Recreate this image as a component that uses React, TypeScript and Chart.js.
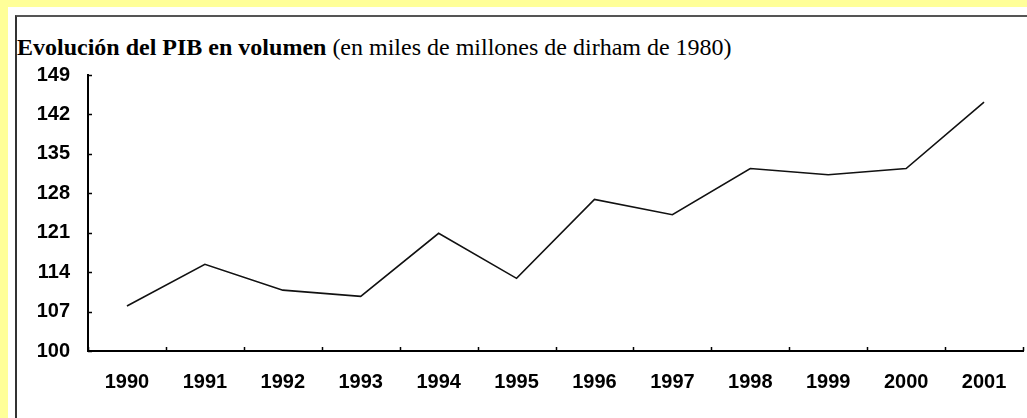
import React, { useEffect, useRef } from "react";
import { Chart, registerables } from "chart.js";

Chart.register(...registerables);

const years: string[] = ["1990", "1991", "1992", "1993", "1994", "1995", "1996", "1997", "1998", "1999", "2000", "2001"];
const pibValues: number[] = [108.0, 115.4, 110.8, 109.7, 120.9, 112.9, 126.9, 124.2, 132.4, 131.3, 132.4, 144.2];
const yMin = 100;
const yMax = 149;
const yStep = 7;

const innerTicks = {
  id: "innerTicks",
  afterDraw(chart: any) {
    const ctx = chart.ctx;
    const x = chart.scales.x;
    const y = chart.scales.y;
    const len = 4;
    ctx.save();
    ctx.strokeStyle = "#000";
    ctx.lineWidth = 1.5;
    ctx.beginPath();
    const n = x.getLabels().length;
    for (let i = 0; i <= n; i++) {
      const px = Math.round(x.getPixelForValue(i - 0.5)) + 0.5;
      ctx.moveTo(px, y.bottom);
      ctx.lineTo(px, y.bottom - len);
    }
    y.ticks.forEach((t: any) => {
      const py = Math.round(y.getPixelForValue(t.value)) + 0.5;
      ctx.moveTo(x.left, py);
      ctx.lineTo(x.left + len, py);
    });
    ctx.stroke();
    ctx.restore();
  },
};

export default function App() {
  const ref = useRef<HTMLCanvasElement | null>(null);
  useEffect(() => {
    if (!ref.current) return;
    const chart = new Chart(ref.current, {
      type: "line",
      data: {
        labels: years,
        datasets: [
          {
            data: pibValues,
            borderColor: "#111",
            borderWidth: 1.6,
            pointRadius: 0,
            tension: 0,
            fill: false,
          },
        ],
      },
      options: {
        animation: false,
        responsive: false,
        maintainAspectRatio: false,
        layout: { padding: { top: 15, right: 4, left: 0, bottom: 0 } },
        plugins: { legend: { display: false }, tooltip: { enabled: false }, title: { display: false } },
        scales: {
          x: {
            type: "category",
            offset: true,
            grid: { display: false, drawTicks: true, tickLength: 19, offset: true },
            border: { display: true, color: "#000", width: 2 },
            ticks: {
              color: "#000",
              font: { family: "'Liberation Sans', Arial", size: 20, weight: "bold" },
              padding: 0,
              maxRotation: 0,
              autoSkip: false,
            },
            afterFit: (s: any) => {
              s.height = 67;
            },
          },
          y: {
            min: yMin,
            max: yMax,
            grid: { display: false, drawTicks: true, tickLength: 18 },
            border: { display: true, color: "#000", width: 2 },
            ticks: {
              stepSize: yStep,
              color: "#000",
              font: { family: "'Liberation Sans', Arial", size: 20, weight: "bold" },
              padding: 0,
            },
            afterFit: (s: any) => {
              s.width = 68;
            },
          },
        },
      },
      plugins: [innerTicks],
    });
    return () => chart.destroy();
  }, []);

  return (
    <div style={{ position: "fixed", left: 0, top: 0, width: 1027, height: 418, background: "#FFFF99", overflow: "hidden" }}>
      <div style={{ position: "absolute", left: 8, top: 7, right: 0, bottom: 0, background: "#fff" }} />
      <div
        style={{
          position: "absolute",
          left: 15,
          top: 15,
          right: 0,
          bottom: 0,
          borderTop: "2px solid #555",
          borderLeft: "2px solid #333",
        }}
      />
      <div
        style={{
          position: "absolute",
          left: 17,
          top: 35,
          fontFamily: "'Liberation Serif', 'Times New Roman', serif",
          fontSize: 24,
          lineHeight: "24px",
          whiteSpace: "nowrap",
          color: "#000",
        }}
      >
        <b>Evolución del PIB en volumen</b> (en miles de millones de dirham de 1980)
      </div>
      <canvas ref={ref} width={1007} height={358} style={{ position: "absolute", left: 20, top: 60, width: 1007, height: 358 }} />
    </div>
  );
}
